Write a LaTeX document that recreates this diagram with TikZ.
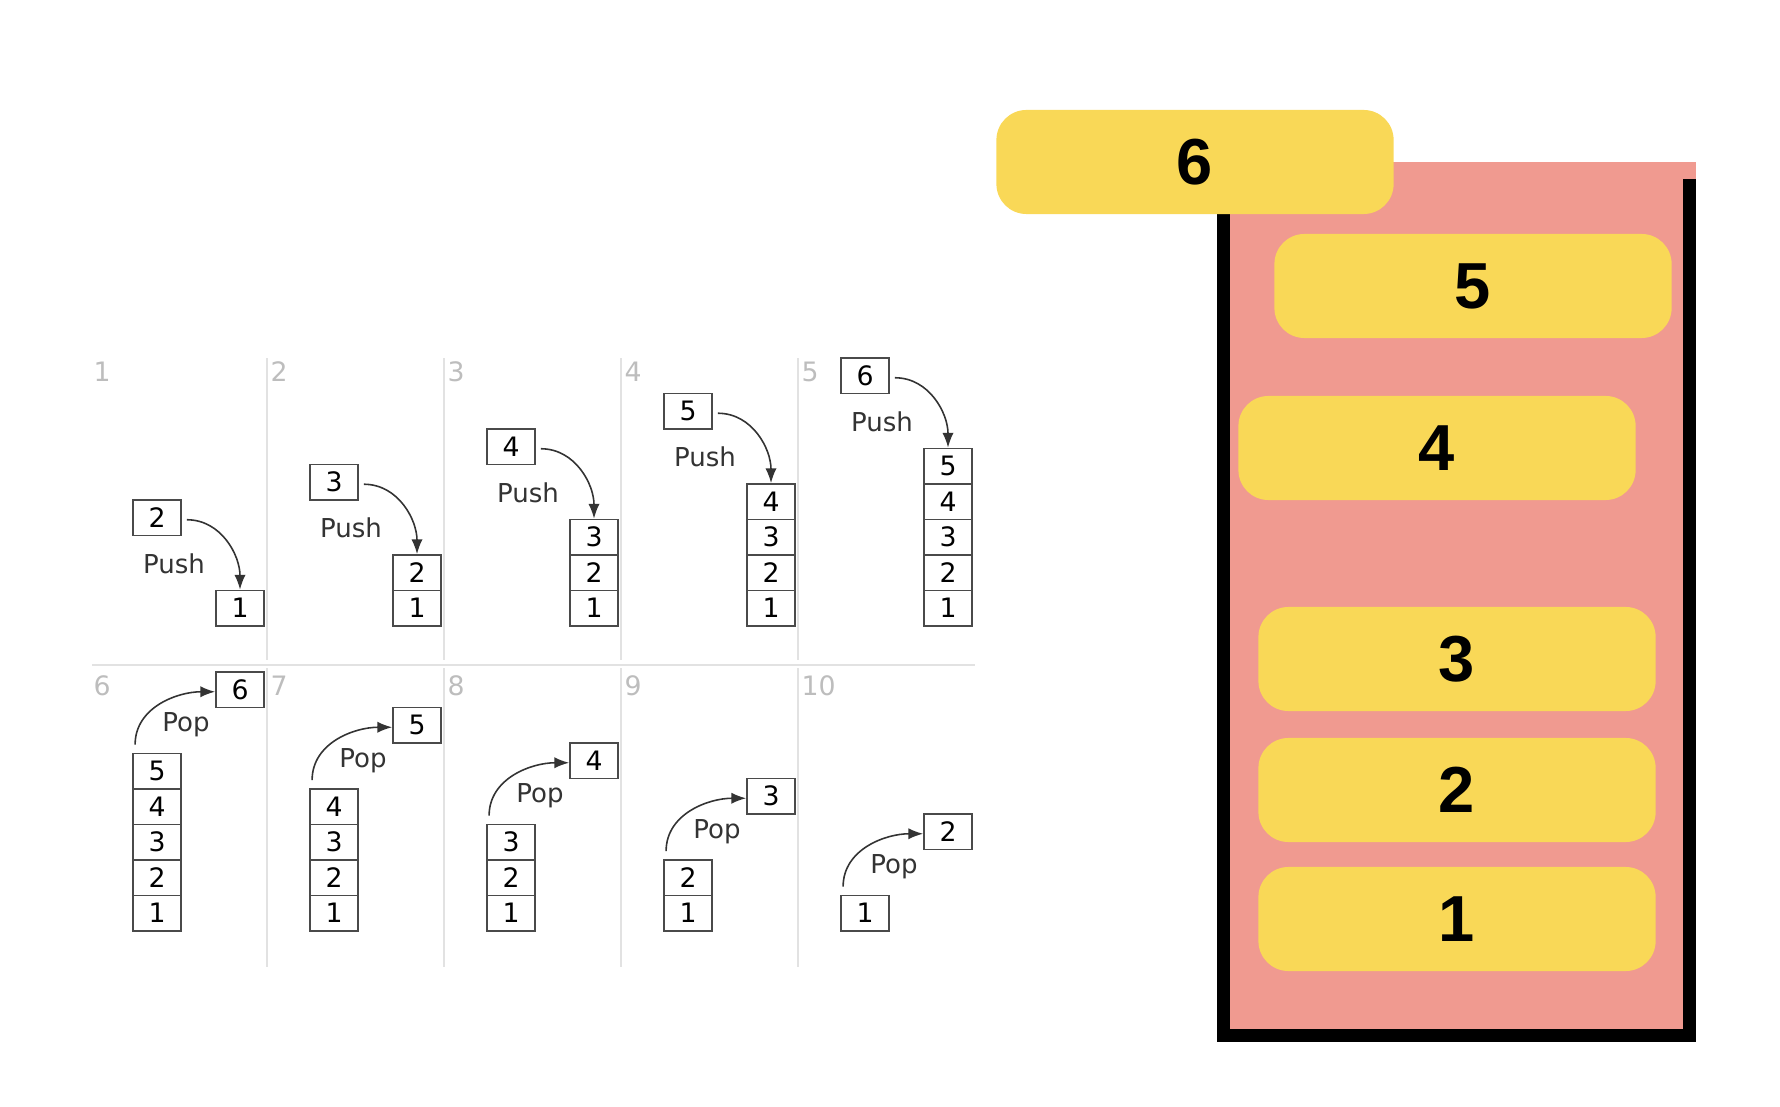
\documentclass[tikz,border=0pt]{standalone}
\usepackage{fontspec}
\setmainfont{DejaVu Sans}
\newfontfamily\bigfont{Liberation Sans}
\usetikzlibrary{arrows.meta}

\definecolor{cellline}{HTML}{4A4A4A}
\definecolor{steplabel}{HTML}{BDBDBD}
\definecolor{divider}{HTML}{E2E2E2}
\definecolor{stackpink}{HTML}{F09A90}
\definecolor{itemyellow}{HTML}{F9D857}

\tikzset{
  cell/.style={draw=cellline,line width=0.5pt,fill=white,minimum width=0.48cm,
    minimum height=0.355cm,inner sep=0pt,font=\fontsize{7.6}{8}\selectfont},
  opname/.style={text=black!80,inner sep=0pt,font=\fontsize{7.4}{8}\selectfont},
  steplbl/.style={text=steplabel,anchor=west,inner sep=0pt,font=\fontsize{7.6}{8}\selectfont},
  moveto/.style={draw=black!80,line width=0.45pt,-{Latex[length=4.2pt,width=3.2pt]}},
  rule/.style={draw=divider,line width=0.55pt},
  item/.style={fill=itemyellow,rounded corners=0.3cm,minimum width=3.97cm,
    minimum height=1.04cm,inner sep=0pt,font=\bigfont\bfseries\fontsize{18.5}{20}\selectfont}
}

\begin{document}
\begin{tikzpicture}[x=0.01cm,y=0.01cm]
\useasboundingbox (0,0) rectangle (1780,1106);

% push row
\foreach \k in {1,...,5} {
  \pgfmathsetmacro\L{90+177*(\k-1)}
  \pgfmathtruncatemacro\n{\k+1}
  \node[steplbl] (top\k) at (\L+3,734) {\k};
  \foreach \i in {1,...,\k}
    \node[cell] (st\k-\i) at (\L+150,{480+35.5*(\i-0.5)}) {\i};
  \node[cell] (push\k) at (\L+67,{552.75+35.5*\k}) {\n};
  \node[opname] (pushlbl\k) at ([xshift=0.17cm,yshift=-0.46cm]push\k.center) {Push};
  \draw[moveto] ([xshift=0.05cm,yshift=-0.02cm]push\k.east) to[out=0,in=90] (st\k-\k.north);
}

% pop row
\foreach \j in {1,...,5} {
  \pgfmathsetmacro\L{90+177*(\j-1)}
  \pgfmathtruncatemacro\n{6-\j}
  \pgfmathtruncatemacro\m{7-\j}
  \pgfmathtruncatemacro\s{\j+5}
  \node[steplbl] (bot\j) at (\L+3,420) {\s};
  \foreach \i in {1,...,\n}
    \node[cell] (bs\j-\i) at (\L+67,{175+35.5*(\i-0.5)}) {\i};
  \node[cell] (pop\j) at (\L+150,{238.75+35.5*\n}) {\m};
  \node[opname] (poplbl\j) at ([xshift=-0.54cm,yshift=-0.35cm]pop\j.center) {Pop};
  \draw[moveto] ([xshift=0.03cm,yshift=0.08cm]bs\j-\n.north west) to[out=90,in=180] ([yshift=-0.02cm]pop\j.west);
}

\foreach \k in {1,...,4} {
  \draw[rule] (90+177*\k,748) -- (90+177*\k,446);
  \draw[rule] (90+177*\k,438) -- (90+177*\k,139);
}
\draw[rule,line width=0.85pt] (92,441) -- (975,441);

% the stack
\fill[stackpink] (1223.5,71) rectangle (1696,944);
\draw[line width=0.13cm] (1223.5,927) -- (1223.5,71) -- (1689.5,71) -- (1689.5,927);

\node[item] (item1) at (1457,187) {1};
\node[item] (item2) at (1457,316) {2};
\node[item] (item3) at (1457,447) {3};
\node[item] (item4) at (1437,658) {4};
\node[item] (item5) at (1473,820) {5};
\node[item] (item6) at (1195,944) {6};
\end{tikzpicture}
\end{document}
